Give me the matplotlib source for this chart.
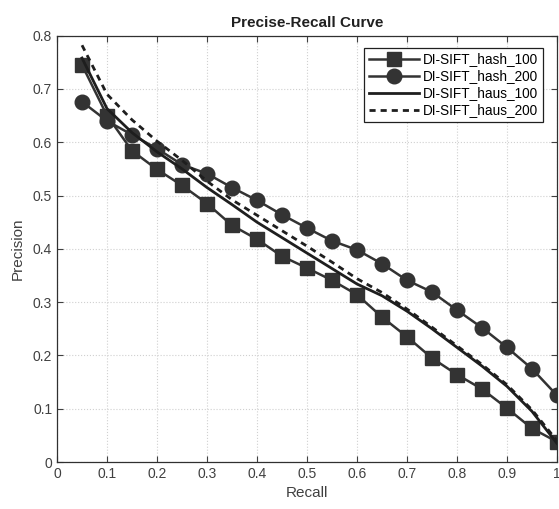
import matplotlib
matplotlib.use("Agg")
import matplotlib.pyplot as plt

plt.rcParams['font.family'] = ['Liberation Sans', 'DejaVu Sans']

recall = [0.05, 0.10, 0.15, 0.20, 0.25, 0.30, 0.35, 0.40, 0.45, 0.50,
          0.55, 0.60, 0.65, 0.70, 0.75, 0.80, 0.85, 0.90, 0.95, 1.00]

hash_100 = [0.745, 0.650, 0.584, 0.549, 0.519, 0.485, 0.444, 0.418, 0.386, 0.364,
            0.341, 0.314, 0.272, 0.235, 0.195, 0.164, 0.137, 0.101, 0.063, 0.038]
hash_200 = [0.676, 0.640, 0.614, 0.588, 0.558, 0.541, 0.515, 0.491, 0.464, 0.439,
            0.415, 0.398, 0.372, 0.341, 0.319, 0.285, 0.252, 0.215, 0.175, 0.125]
haus_100 = [0.758, 0.663, 0.618, 0.582, 0.550, 0.515, 0.483, 0.450, 0.421, 0.392,
            0.363, 0.334, 0.312, 0.283, 0.250, 0.215, 0.180, 0.142, 0.095, 0.035]
haus_200 = [0.782, 0.690, 0.642, 0.602, 0.566, 0.527, 0.492, 0.463, 0.434, 0.405,
            0.375, 0.344, 0.318, 0.287, 0.253, 0.218, 0.183, 0.145, 0.098, 0.040]

labels = ['DI-SIFT_hash_100', 'DI-SIFT_hash_200', 'DI-SIFT_haus_100', 'DI-SIFT_haus_200']
xticks = [0, 0.1, 0.2, 0.3, 0.4, 0.5, 0.6, 0.7, 0.8, 0.9, 1]
xticklabels = ['0', '0.1', '0.2', '0.3', '0.4', '0.5', '0.6', '0.7', '0.8', '0.9', '1']
yticks = [0, 0.1, 0.2, 0.3, 0.4, 0.5, 0.6, 0.7, 0.8]
yticklabels = ['0', '0.1', '0.2', '0.3', '0.4', '0.5', '0.6', '0.7', '0.8']

fig = plt.figure(figsize=(5.59, 5.09), dpi=100)
ax = fig.add_axes([0.102, 0.0923, 0.8944, 0.8377])

c = '#333333'
ax.plot(recall, hash_100, '-', color=c, lw=1.8, marker='s', ms=10, mfc=c, mec=c, label=labels[0])
ax.plot(recall, hash_200, '-', color=c, lw=1.8, marker='o', ms=10.5, mfc=c, mec=c, label=labels[1])
ax.plot(recall, haus_100, '-', color='#1e1e1e', lw=2.0, label=labels[2])
ax.plot(recall, haus_200, '--', color='#1e1e1e', lw=2.0, dashes=(2.2, 1.8), label=labels[3])

ax.set_xlim(0, 1)
ax.set_ylim(0, 0.8)
ax.set_xticks(xticks)
ax.set_xticklabels(xticklabels)
ax.set_yticks(yticks)
ax.set_yticklabels(yticklabels)
ax.tick_params(direction='in', top=True, right=True, labelsize=10, colors='#404040',
               length=4, width=0.8)
for s in ax.spines.values():
    s.set_color('#303030')
    s.set_linewidth(0.9)
ax.grid(True, linestyle=':', color='#d0d0d0', lw=0.8)
ax.set_axisbelow(True)

ax.set_xlabel('Recall', fontsize=11, color='#404040', labelpad=4)
ax.set_ylabel('Precision', fontsize=11, color='#404040', labelpad=6)
ax.set_title('Precise-Recall Curve', fontsize=11, fontweight='bold', color='#202020', pad=6)

leg = ax.legend(loc='upper right', bbox_to_anchor=(0.972, 0.972), fontsize=9.8,
                handlelength=3.7, handletextpad=0.3, borderpad=0.35, labelspacing=0.22,
                fancybox=False, framealpha=1, edgecolor='#202020', borderaxespad=0)
leg.get_frame().set_linewidth(0.9)

fig.savefig('out.png', dpi=100)
